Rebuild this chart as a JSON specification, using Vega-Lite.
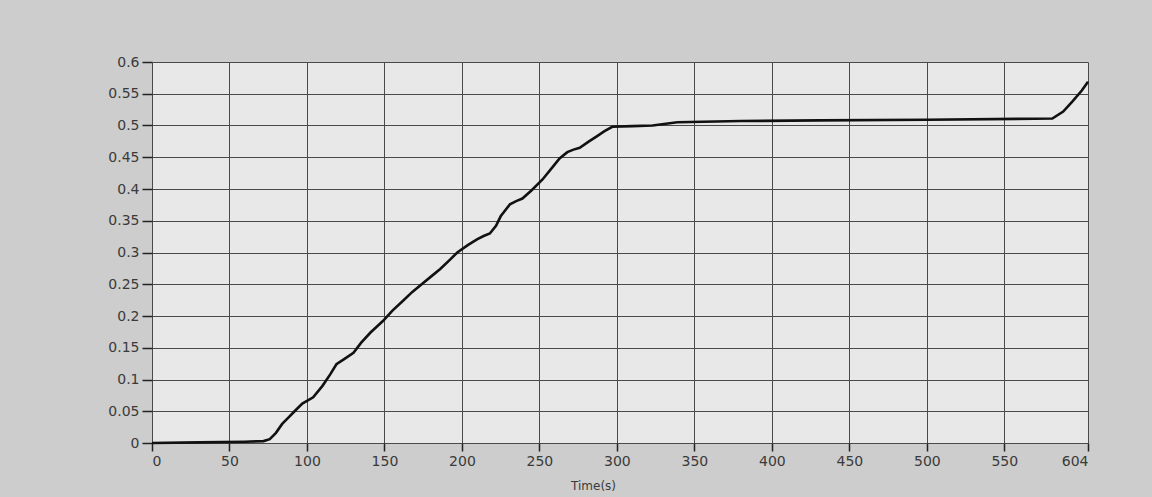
{
  "$schema": "https://vega.github.io/schema/vega-lite/v6.json",
  "width": 936,
  "height": 381,
  "autosize": {"type": "none"},
  "padding": {"left": 152, "top": 62, "right": 64, "bottom": 54},
  "background": "#cdcdcd",
  "config": {"view": {"fill": "#e8e8e8", "stroke": null}},
  "data": {"values": [
    {"t": 0, "v": 0}, {"t": 30, "v": 0.001}, {"t": 60, "v": 0.002}, {"t": 72, "v": 0.003},
    {"t": 76, "v": 0.006}, {"t": 80, "v": 0.016}, {"t": 84, "v": 0.030}, {"t": 88, "v": 0.040},
    {"t": 92, "v": 0.050}, {"t": 97, "v": 0.062}, {"t": 104, "v": 0.072}, {"t": 110, "v": 0.090},
    {"t": 115, "v": 0.108}, {"t": 119, "v": 0.124}, {"t": 124, "v": 0.132}, {"t": 130, "v": 0.142},
    {"t": 135, "v": 0.158}, {"t": 141, "v": 0.174}, {"t": 145, "v": 0.183}, {"t": 149, "v": 0.192},
    {"t": 155, "v": 0.208}, {"t": 162, "v": 0.224}, {"t": 168, "v": 0.238}, {"t": 175, "v": 0.252},
    {"t": 180, "v": 0.262}, {"t": 186, "v": 0.274}, {"t": 192, "v": 0.288}, {"t": 197, "v": 0.300},
    {"t": 204, "v": 0.312}, {"t": 210, "v": 0.321}, {"t": 214, "v": 0.326}, {"t": 218, "v": 0.330},
    {"t": 222, "v": 0.342}, {"t": 225, "v": 0.357}, {"t": 231, "v": 0.376}, {"t": 235, "v": 0.381},
    {"t": 239, "v": 0.385}, {"t": 245, "v": 0.398}, {"t": 252, "v": 0.415}, {"t": 259, "v": 0.436},
    {"t": 263, "v": 0.448}, {"t": 268, "v": 0.458}, {"t": 272, "v": 0.462}, {"t": 276, "v": 0.465},
    {"t": 282, "v": 0.475}, {"t": 287, "v": 0.483}, {"t": 292, "v": 0.491}, {"t": 297, "v": 0.498},
    {"t": 310, "v": 0.499}, {"t": 323, "v": 0.500}, {"t": 339, "v": 0.505}, {"t": 380, "v": 0.507},
    {"t": 431, "v": 0.508}, {"t": 500, "v": 0.509}, {"t": 581, "v": 0.511}, {"t": 588, "v": 0.522},
    {"t": 594, "v": 0.538}, {"t": 600, "v": 0.555}, {"t": 604, "v": 0.569}
  ]},
  "mark": {"type": "line", "color": "#111111", "strokeWidth": 2.6, "interpolate": "linear"},
  "encoding": {
    "x": {
      "field": "t", "type": "quantitative",
      "scale": {"domain": [0, 604], "nice": false, "zero": false},
      "axis": {
        "values": [0, 50, 100, 150, 200, 250, 300, 350, 400, 450, 500, 550, 604],
        "title": "Time(s)",
        "grid": true, "gridColor": "#4a4a4a", "gridOpacity": 1, "gridWidth": 1,
        "domain": false,
        "tickColor": "#222222", "tickSize": 8, "tickWidth": 1.5,
        "labelFont": "DejaVu Sans", "labelFontSize": 14, "labelColor": "#3a3a3a", "labelPadding": 3,
        "titleFont": "DejaVu Sans", "titleFontSize": 12, "titleFontWeight": "normal", "titleColor": "#3a3a3a",
        "titleX": 441, "titleY": 37, "titleBaseline": "top"
      }
    },
    "y": {
      "field": "v", "type": "quantitative",
      "scale": {"domain": [0, 0.6], "nice": false},
      "axis": {
        "values": [0, 0.05, 0.1, 0.15, 0.2, 0.25, 0.3, 0.35, 0.4, 0.45, 0.5, 0.55, 0.6],
        "format": ".2~f",
        "title": null,
        "grid": true, "gridColor": "#4a4a4a", "gridOpacity": 1, "gridWidth": 1,
        "domain": false,
        "tickColor": "#222222", "tickSize": 10, "tickWidth": 1.5,
        "labelFont": "DejaVu Sans", "labelFontSize": 14, "labelColor": "#3a3a3a", "labelPadding": 3
      }
    }
  }
}
